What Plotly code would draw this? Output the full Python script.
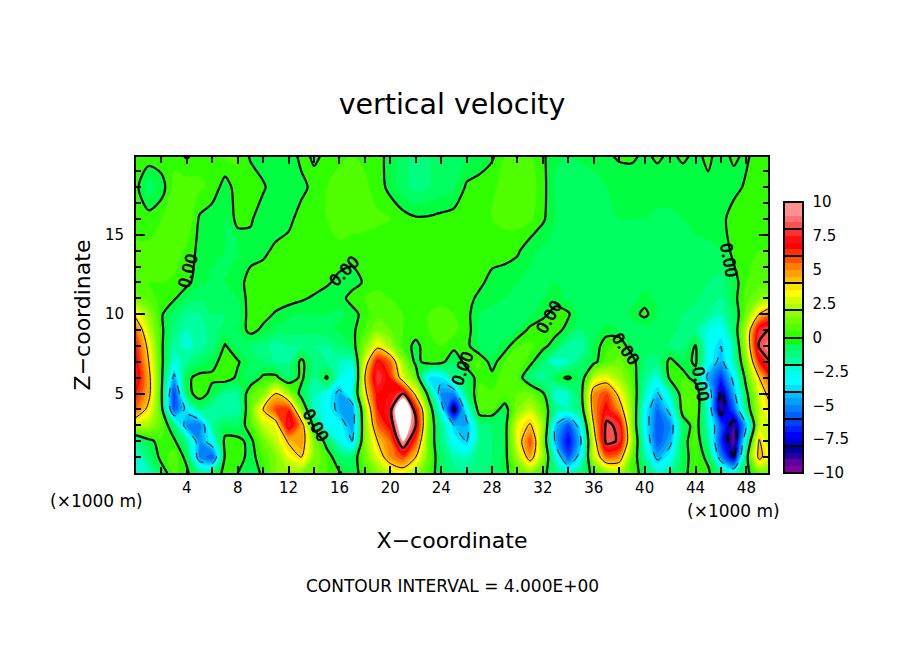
import plotly.graph_objects as go

# grid (x and z in 1000 m)
x_km = list(range(51))
z_km = [0, 1, 2, 3, 4, 5, 6, 7, 8, 9, 10, 11, 12, 14, 16, 18, 20]

w_z00 = [-2,-2.2,-0.5,0.6,0.2,-1.2,-1,0.4,0,-0.6, 0.2,1.5,1.8,1.5,1.2,0.5,0.1,-0.4,0.4,1.5, 2.5,3,2,0.6,-0.6,-1.2,-1.5,-1.2,-0.8,-0.3, 0.8,1.5,0.5,-1.2,-2.2,-1,0.4,1.5,2,0.6, -0.5,-2,-1.5,-0.3,0.5,0.2,-1.2,-2.5,-0.3,1,1]
w_z01 = [-2.5,-1,0.3,0.8,-0.3,-5,-6,0.2,0.5,-0.4, 0.6,1.5,3,4,1.5,0.6,-0.8,-0.8,1.2,3, 5,6,4,1,-0.8,-1.8,-2,-1.2,-1,-0.4, 2,4.8,1.8,-2.5,-6,-3,2.5,5.5,5,1, -1.5,-4.5,-3,-0.5,0.6,-0.3,-5,-8,-0.5,4.5,2.5]
w_z02 = [-1.5,-0.3,0.4,0.2,-1.5,-5,-3,0.3,0.3,-0.3, 1.2,2.5,4.2,5,1.5,-0.5,-2.5,-4,1.5,4, 5.5,9.5,6,1,-1.2,-3,-4,-1.5,-1,-0.5, 3,6,1.5,-4.5,-7.3,-4,3,8.5,7.8,2, -2.5,-6,-4.5,-0.5,0.8,-1.5,-6.5,-9.5,-2,4.2,1.5]
w_z03 = [2.5,2,1,-1,-5,-5.5,-1.5,-0.6,-0.8,0.6, 2.5,3.2,7.5,5,-0.5,-3,-3,-5,1.5,5.5, 7,11.5,8,1.2,-1.5,-4,-4.5,-1.2,-1,-0.5, 3,4.2,2,-4,-6,-3,4,8.4,7.6,1.5, -3,-6,-5,-0.8,0.6,-2,-6,-9,-4,2.5,3]
w_z04 = [5.5,3.5,0.5,-6,-3.5,-1.2,-1.8,-2,-1.8,1, 4,6,6.5,1.5,-2,-3,-4.5,-5,2,6.5, 7.5,13,7,1.2,-3,-8.5,-3,0.6,0.6,-0.5, 1.5,2.5,1,-1.5,-2,-1,5,7,5,1.5, -3,-5.5,-3.5,0.6,1,-2.5,-9,-6,-1,2.5,4]
w_z05 = [6.5,4.5,0.2,-6.5,-0.5,0.6,-0.4,-1.5,-1.5,0.8, 1.5,4,2,-0.5,-2,-2.8,-4.5,-2.5,3.5,7, 7,8,3.5,-0.5,-5,-5,-1,0.7,0.6,0.8, 1,1.2,0.2,-2.5,-2,-0.5,5,6,3.5,1.2, -2,-4.2,-2,0.8,1,-2.5,-8.5,-4.5,-0.3,2.8,5]
w_z06 = [7.5,4.5,0.3,-4.5,-0.2,0.3,0.2,0.5,-0.2,-0.8, 0.2,0.3,-1,0.3,-1.5,0.2,-2.5,-3.5,4,8, 6.5,3,1,-3.5,-3.5,-1.5,-0.6,0.4,0.2,0.8, 0.6,-1,-1.8,-0.4,0.2,-0.8,2.5,3,2,0.8, -1.5,-2.5,0.3,0.5,-0.5,-4.5,-6.5,-3.5,0.6,4,6.5]
w_z07 = [7,4,0.3,-2.5,-1.5,-0.8,-0.3,0.4,0.1,-0.6, -1,-1.5,-1.5,0.3,-1.2,-1.5,-2,-2.3,3,7, 5.5,1.8,-0.3,0.4,0.3,-0.8,0.4,0.6,-0.3,0.5, 0.9,0.3,-1,-2.5,-2,-1,-0.3,0.8,1.2,0.4, -1,-1.2,0.3,-0.5,0.2,-3,-4.5,-2,1.5,6.5,8.2]
w_z08 = [6.5,3.5,0.2,-1.8,-2.2,-1.8,-1.2,0.1,-0.8,-1, -1.2,-1.8,-1.5,-1.5,-1.5,-1.5,-1,-0.5,1.5,3.5, 2,0.4,-0.2,0.4,0.5,0.3,0.2,-0.6,-0.8,-0.3, 0.5,0.6,0.3,-0.5,-1.8,-2,-0.3,0.3,0.6,-0.5, -0.8,-0.8,-1,-1.2,0.1,-2.8,-4,-1.8,2.5,8.2,9]
w_z09 = [5.5,2.5,0.2,-1.2,-2,-1.8,-1.2,-0.8,-0.6,0.3, -0.2,-0.6,-0.8,-0.8,-0.8,-0.6,-0.4,-0.2,0.6,1.5, 1,0.5,0.3,0.5,0.6,0.6,0.3,-0.6,-0.8,-0.8, -0.5,0.2,0.5,0.3,-0.3,-1,-0.8,-0.2,-0.5,-1, -0.8,-0.8,-0.8,-1.2,-1.5,-2.5,-3,-1,2.5,7.5,8.2]
w_z10 = [3.5,1.8,0.1,-0.8,-1.5,-1.5,-1,-1,-0.8,0.4, 0.3,-0.1,-0.4,-0.5,-0.5,-0.5,-0.6,-0.3,0.3,0.8, 0.8,0.5,0.4,0.5,0.6,0.5,0.2,-0.5,-0.6,-0.7, -0.8,-0.6,-0.2,0.3,0.1,-0.8,-1,-1,-0.8,-0.3, 0.2,-0.5,-0.8,-1,-1.2,-1.5,-2,-0.8,1.2,4,5.5]
w_z11 = [1.2,0.8,0.3,0.1,-0.6,-0.9,-0.9,-0.8,-0.5,0.3, 0.4,0.4,0.3,0.1,-0.1,-0.3,-0.3,0.3,0.5,0.6, 0.5,0.4,0.4,0.4,0.4,0.4,0.3,-0.2,-0.4,-0.5, -0.6,-0.7,-0.5,-0.3,-0.6,-0.8,-0.8,-0.8,-0.8,-0.7, -0.3,-0.6,-0.7,-0.8,-0.9,-1.2,-1.5,-0.3,0.8,1.5,2]
w_z12 = [0.6,0.5,0.5,0.4,0.2,-0.4,-0.6,-0.5,-0.3,0.3, 0.5,0.5,0.5,0.4,0.3,0.1,-0.2,-0.3,0.1,0.4, 0.4,0.4,0.4,0.4,0.5,0.5,0.4,0.2,-0.3,-0.4, -0.5,-0.6,-0.6,-0.5,-0.5,-0.6,-0.7,-0.7,-0.7,-0.7, -0.7,-0.7,-0.7,-0.8,-0.8,-1,-1.2,-0.3,0.5,0.8,0.8]
w_z14 = [0.6,0.6,0.7,0.8,0.4,-0.2,-0.4,-0.5,-0.5,-0.3, -0.2,0.2,0.3,0.4,0.4,0.4,0.4,0.3,0.2,0.2, 0.4,0.4,0.4,0.4,0.4,0.4,0.4,0.4,0.4,0.3, 0.1,-0.4,-0.6,-0.7,-0.8,-0.8,-0.8,-0.8,-0.7,-0.7, -0.7,-0.7,-0.7,-0.6,-0.6,-0.6,-0.5,0.2,0.4,0.5,0.5]
w_z16 = [0.3,0.3,0.5,0.9,1,-0.1,-0.4,-0.5,0.2,0.1, -0.4,-0.5,-0.2,0.3,0.4,0.5,0.7,0.7,0.7,0.6, 0.5,0.3,0.1,0.1,0.2,0.3,0.4,0.4,0.5,0.6, 0.7,0.6,0.1,-0.5,-0.6,-0.6,-0.6,-0.6,-0.5,-0.5, -0.5,-0.6,-0.6,-0.5,-0.4,-0.3,-0.2,0.3,0.4,0.5,0.5]
w_z18 = [0.2,-0.8,-0.3,0.7,0.8,0.6,0.4,-0.3,0.3,0.4, 0.1,-0.4,-0.4,-0.2,0.2,0.5,0.7,0.7,0.6,0.3, -0.2,-0.8,-1.2,-1,-0.8,-0.6,0.1,0.2,0.4,0.7, 0.9,0.8,0.2,-0.6,-0.8,-0.8,-0.7,-0.5,-0.4,-0.3, -0.3,-0.3,-0.3,-0.3,-0.2,-0.1,-0.1,-0.2,0.1,0.4,0.4]
w_z20 = [0.3,0.4,0.4,0.3,-0.1,0.3,0.5,0.6,0.6,-0.1, -0.4,-0.5,-0.4,0.2,-0.1,0.1,0.4,0.5,0.4,0.2, -0.2,-0.8,-1.2,-1,-0.8,-0.6,-0.5,-0.3,-0.1,0.5, 0.8,0.6,0.1,-0.4,-0.5,-0.4,-0.3,-0.1,0.1,0.1, -0.1,0.1,-0.1,0.1,-0.1,0.1,-0.2,0.1,-0.1,0.3,0.4]

w = [w_z00, w_z01, w_z02, w_z03, w_z04, w_z05, w_z06, w_z07, w_z08, w_z09,
     w_z10, w_z11, w_z12, w_z14, w_z16, w_z18, w_z20]

# colour bar shades, -10 to 10 every 0.5
shades = ['#8000a0','#6000a0','#2000a0','#0000a0',
          '#0000d0','#0000ff','#0020ff','#0040ff',
          '#0060ff','#0080ff','#00a0ff','#00c0ff',
          '#00e0ff','#00ffff','#00fff0','#00ffd0',
          '#00ffa0','#00ff80','#00ff60','#00ff40',
          '#10ff00','#30ff00','#50ff00','#70ff00',
          '#90ff00','#b0ff00','#d0ff00','#ffff00',
          '#ffe000','#ffc000','#ffa000','#ff8000',
          '#ff5000','#ff3000','#ff0000','#ff1010',
          '#ff3030','#ff5050','#ff7070','#ff9090']
cbar_vals = [-10, -7.5, -5, -2.5, 0, 2.5, 5, 7.5, 10]
cbar_text = ['−10', '−7.5', '−5', '−2.5', '0', '2.5', '5', '7.5', '10']
cbar_bands = [-8, -6, -4, -2, 0, 2, 4, 6, 8]


def stepped(colors):
    out = []
    for i, c in enumerate(colors):
        out.append([i / len(colors), c])
        out.append([(i + 1) / len(colors), c])
    return out


W, H = 904, 654
L, R, T, B = 136, 768, 157, 473
FONT = 'DejaVu Sans'


def px(xp):
    return (xp - L) / (R - L)


def py(yp):
    return (B - yp) / (B - T)


fig = go.Figure()

# this trace only carries the colour bar, the next one paints over it
fig.add_trace(go.Contour(
    x=x_km, y=z_km, z=w, zmin=-10, zmax=10, colorscale=stepped(shades),
    autocontour=False, showlegend=False,
    contours=dict(start=-10, end=9.5, size=0.5, coloring='fill', showlines=False),
    line=dict(width=0),
    colorbar=dict(
        x=px(784), xanchor='left', y=0, yanchor='bottom',
        thicknessmode='pixels', thickness=19, lenmode='pixels', len=271,
        xpad=0, ypad=0, outlinewidth=0,
        tickmode='array', tickvals=cbar_vals, ticktext=cbar_text,
        ticks='outside', ticklen=7, tickcolor='rgba(0,0,0,0)',
        tickfont=dict(family=FONT, size=15, color='black'),
    ),
))

# field itself, one more band so that values above 10 come out white
fig.add_trace(go.Contour(
    x=x_km, y=z_km, z=w, zmin=-10, zmax=10.5, colorscale=stepped(shades + ['#ffffff']),
    autocontour=False, showlegend=False, showscale=False,
    contours=dict(start=-10, end=10, size=0.5, coloring='fill', showlines=False),
    line=dict(width=0, smoothing=1),
))

# see-through heatmap, its colour bar draws the frame and the black bands every 2 units
fig.add_trace(go.Heatmap(
    x=x_km, y=z_km, z=w, zmin=-10, zmax=10, hoverinfo='skip',
    colorscale=[[0, 'rgba(0,0,0,0)'], [1, 'rgba(0,0,0,0)']],
    colorbar=dict(
        x=px(784), xanchor='left', y=0, yanchor='bottom',
        thicknessmode='pixels', thickness=19, lenmode='pixels', len=271,
        xpad=0, ypad=0, outlinecolor='black', outlinewidth=2,
        tickmode='array', tickvals=cbar_bands, showticklabels=False,
        ticks='inside', ticklen=19, tickwidth=2, tickcolor='black',
    ),
))


def lines(level, width, dash):
    fig.add_trace(go.Contour(
        x=x_km, y=z_km, z=w, showscale=False, autocontour=False, showlegend=False,
        contours=dict(start=level, end=level, size=1, coloring='none'),
        line=dict(color='black', width=width, dash=dash, smoothing=0.8),
    ))


lines(0, 2.2, 'solid')
lines(4, 1, 'solid')
lines(8, 2.4, 'solid')
lines(-4, 1, 'dash')
lines(-8, 2.4, 'dash')

# contour labels
for lx, lz, ang in [(4.1, 12.7, -75), (16.4, 12.7, -45), (14.1, 3, 60), (25.7, 6.6, -70),
                    (32.5, 9.8, -60), (38.5, 7.8, 55), (44.4, 5.6, 80), (46.6, 13.4, 80)]:
    fig.add_annotation(x=lx, y=lz, text='<b>0.00</b>', textangle=ang, showarrow=False,
                       font=dict(family='Liberation Sans', size=18, color='black'))

ax_font = dict(family=FONT, size=15, color='black')
fig.update_xaxes(
    range=[0, 49.7], tickmode='array', tickvals=list(range(4, 49, 4)),
    ticks='inside', ticklen=7, tickwidth=2, tickcolor='black', tickfont=ax_font,
    minor=dict(dtick=2, tick0=0, ticks='inside', ticklen=6, tickwidth=2, tickcolor='black'),
    showline=True, linecolor='black', linewidth=2, mirror='ticks', showgrid=False, zeroline=False,
    title=dict(text='X−coordinate', standoff=37, font=dict(family=FONT, size=22, color='black')),
)
fig.update_yaxes(
    range=[0, 19.9], tickmode='array', tickvals=[5, 10, 15], ticklabelstandoff=7,
    ticks='inside', ticklen=9, tickwidth=2, tickcolor='black', tickfont=ax_font,
    minor=dict(dtick=1, tick0=0, ticks='inside', ticklen=5, tickwidth=2, tickcolor='black'),
    showline=True, linecolor='black', linewidth=2, mirror='ticks', showgrid=False, zeroline=False,
    title=dict(text='Z−coordinate', standoff=8, font=dict(family=FONT, size=22, color='black')),
)

unit_font = dict(family=FONT, size=17, color='black')
for tx, ty in [(96, 501), (733, 511)]:
    fig.add_annotation(xref='paper', yref='paper', x=px(tx), y=py(ty), text='(×1000 m)',
                       xanchor='center', yanchor='middle', showarrow=False, font=unit_font)
fig.add_annotation(xref='paper', yref='paper', x=px(452), y=py(586),
                   text='CONTOUR INTERVAL = 4.000E+00', xanchor='center', yanchor='middle',
                   showarrow=False, font=dict(family=FONT, size=17, color='black'))

fig.update_layout(
    width=W, height=H, margin=dict(l=L, r=W - R, t=T, b=H - B, autoexpand=False),
    paper_bgcolor='white', plot_bgcolor='white', showlegend=False,
    title=dict(text='vertical velocity', x=452 / W, xanchor='center', y=(H - 104) / H, yanchor='middle',
               font=dict(family=FONT, size=28.5, color='black')),
)

fig.write_html("out.html", config=dict(displayModeBar=False),
               post_script="document.body.style.margin='0';document.body.style.overflow='hidden';")
